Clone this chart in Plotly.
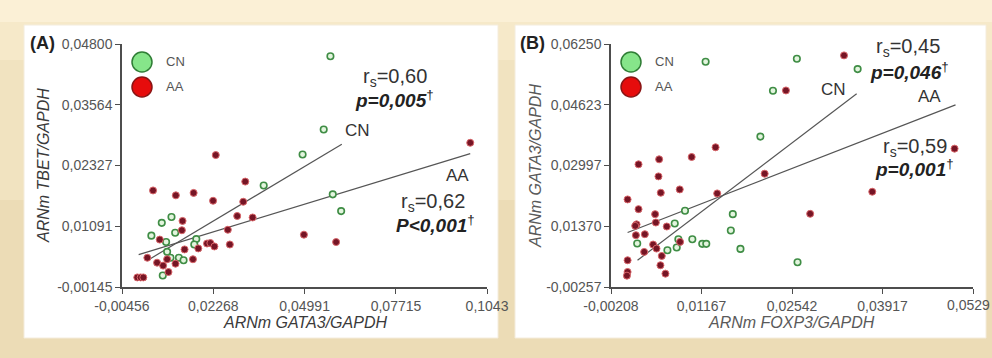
import plotly.graph_objects as go

W, H = 992, 358

# ---------------- Panel A data : TBET vs GATA3 ----------------
a_cn_x = [0.0576, 0.0556, 0.0493, 0.0377, 0.0583, 0.0608, 0.0102, 0.0073, 0.0042, 0.0113,
          0.0086, 0.0176, 0.0170, 0.0089, 0.0099, 0.0124, 0.0138, 0.0076]
a_cn_y = [0.0455, 0.0306, 0.0255, 0.0192, 0.0174, 0.0140, 0.0128, 0.0116, 0.0090, 0.0096,
          0.0077, 0.0083, 0.0072, 0.0057, 0.0045, 0.0045, 0.0040, 0.0009]
a_aa_x = [0.0993, 0.0234, 0.0322, 0.0047, 0.0115, 0.0168, 0.0226, 0.0316, 0.0298, 0.0344,
          0.0135, 0.0133, 0.0270, 0.0497, 0.0593, 0.0067, 0.0208, 0.0218, 0.0230, 0.0276,
          0.0141, 0.0182, 0.0030, 0.0166, 0.0059, 0.0077, 0.0114, 0.0093, 0.0000, 0.0010,
          0.0018, 0.0089]
a_aa_y = [0.0279, 0.0254, 0.0200, 0.0182, 0.0172, 0.0177, 0.0161, 0.0159, 0.0130, 0.0127,
          0.0120, 0.0101, 0.0102, 0.0092, 0.0077, 0.0082, 0.0074, 0.0075, 0.0068, 0.0072,
          0.0062, 0.0064, 0.0045, 0.0042, 0.0035, 0.0029, 0.0033, 0.0016, 0.0005, 0.0005,
          0.0005, 0.0042]
a_cn_fit_x = [0.00339, 0.0610]
a_cn_fit_y = [0.00411, 0.0276]
a_aa_fit_x = [0.00041, 0.0993]
a_aa_fit_y = [0.00513, 0.0257]
a_xticks = [-0.00456, 0.02268, 0.04991, 0.07715, 0.1043]
a_xticklabels = ["-0,00456", "0,02268", "0,04991", "0,07715", "0,1043"]
a_yticks = [-0.00145, 0.01091, 0.02327, 0.03564, 0.04800]
a_yticklabels = ["-0,00145", "0,01091", "0,02327", "0,03564", "0,04800"]

# ---------------- Panel B data : GATA3 vs FOXP3 ----------------
b_cn_x = [0.01229, 0.02615, 0.03538, 0.02252, 0.02061, 0.00916, 0.01642, 0.00760, 0.01612, 0.00190,
          0.00815, 0.01027, 0.01178, 0.01239, 0.00790, 0.00649, 0.01758, 0.02625]
b_cn_y = [0.05775, 0.05856, 0.05578, 0.04997, 0.03771, 0.01784, 0.01694, 0.01444, 0.01256, 0.00907,
          0.01023, 0.01023, 0.00898, 0.00898, 0.00799, 0.00727, 0.00763, 0.00405]
b_aa_x = [0.03331, 0.02449, 0.05010, 0.01380, 0.01017, 0.00523, 0.00210, 0.02126, 0.00513, 0.00836,
          0.00548, 0.01405, 0.03760, 0.00044, 0.00210, 0.02817, 0.00462, 0.00473, 0.00180, 0.00160,
          0.00639, 0.00170, 0.00306, 0.00432, 0.00483, 0.00841, 0.00296, 0.00563, 0.00044, 0.00543,
          0.00044, 0.00619, 0.00034]
b_aa_y = [0.05945, 0.05006, 0.03448, 0.03484, 0.03225, 0.03162, 0.03028, 0.02777, 0.02705, 0.02356,
          0.02267, 0.02249, 0.02294, 0.02088, 0.01828, 0.01703, 0.01694, 0.01470, 0.01420, 0.01380,
          0.01363, 0.01130, 0.01157, 0.00880, 0.00772, 0.00951, 0.00683, 0.00575, 0.00459, 0.00325,
          0.00146, 0.00101, 0.00047]
b_cn_fit_x = [0.00195, 0.03523]
b_cn_fit_y = [0.00459, 0.04916]
b_aa_fit_x = [0.00044, 0.05025]
b_aa_fit_y = [0.01202, 0.04621]
b_xticks = [-0.00208, 0.01167, 0.02542, 0.03917, 0.0529]
b_xticklabels = ["-0,00208", "0,01167", "0,02542", "0,03917", "0,0529"]
b_yticks = [-0.00257, 0.01370, 0.02997, 0.04623, 0.06250]
b_yticklabels = ["-0,00257", "0,01370", "0,02997", "0,04623", "0,06250"]

groups = ["CN", "AA"]


def px(x):
    return x / W


def py(y):
    return 1 - y / H


FONT = "Liberation Sans, Arial, sans-serif"
CN_MARK = dict(size=6.5, color="#e3f5de", line=dict(color="#3f8d45", width=1.6))
AA_MARK = dict(size=7, color="#761525", line=dict(color="#d9666a", width=1))
FIT_LINE = dict(color="#555555", width=1.2)
TICKFONT = dict(family=FONT, size=14, color="#555555")

fig = go.Figure()

panels = [
    ("x", "y", a_cn_x, a_cn_y, a_aa_x, a_aa_y, a_cn_fit_x, a_cn_fit_y, a_aa_fit_x, a_aa_fit_y),
    ("x2", "y2", b_cn_x, b_cn_y, b_aa_x, b_aa_y, b_cn_fit_x, b_cn_fit_y, b_aa_fit_x, b_aa_fit_y),
]
for xa, ya, cx, cy, ax_, ay_, cfx, cfy, afx, afy in panels:
    fig.add_trace(go.Scatter(x=cfx, y=cfy, mode="lines", line=FIT_LINE, xaxis=xa, yaxis=ya,
                             showlegend=False, hoverinfo="skip"))
    fig.add_trace(go.Scatter(x=afx, y=afy, mode="lines", line=FIT_LINE, xaxis=xa, yaxis=ya,
                             showlegend=False, hoverinfo="skip"))
    fig.add_trace(go.Scatter(x=cx, y=cy, mode="markers", marker=CN_MARK, name=groups[0],
                             xaxis=xa, yaxis=ya, showlegend=False, cliponaxis=False))
    fig.add_trace(go.Scatter(x=ax_, y=ay_, mode="markers", marker=AA_MARK, name=groups[1],
                             xaxis=xa, yaxis=ya, showlegend=False, cliponaxis=False))

axis_common = dict(showgrid=False, zeroline=False, showline=True, linecolor="#4d4d4d",
                   linewidth=1.5, ticks="outside", ticklen=5, tickwidth=1.3, tickcolor="#4d4d4d",
                   tickfont=TICKFONT, fixedrange=True,
                   automargin=False, ticklabeloverflow="allow")

# last tick label of panel B sits at the right edge: drawn as annotation shifted inward
b_xtick_text_axis = b_xticklabels[:-1] + [""]

y_dom = [py(287), py(44)]
fig.update_layout(
    width=W, height=H, margin=dict(l=0, r=0, t=0, b=0, pad=0, autoexpand=False),
    paper_bgcolor="#ecdcb6", plot_bgcolor="rgba(0,0,0,0)",
    font=dict(family=FONT),
    xaxis=dict(domain=[px(122), px(487)], range=[a_xticks[0], a_xticks[-1]], anchor="y",
               tickvals=a_xticks, ticktext=a_xticklabels, **axis_common),
    yaxis=dict(domain=y_dom, range=[a_yticks[0], a_yticks[-1]], anchor="x",
               tickvals=a_yticks, ticktext=a_yticklabels, **axis_common),
    xaxis2=dict(domain=[px(611), px(973)], range=[b_xticks[0], b_xticks[-1]], anchor="y2",
                tickvals=b_xticks, ticktext=b_xtick_text_axis, **axis_common),
    yaxis2=dict(domain=y_dom, range=[b_yticks[0], b_yticks[-1]], anchor="x2",
                tickvals=b_yticks, ticktext=b_yticklabels, **axis_common),
)

shapes = [
    # background bands
    dict(type="rect", xref="paper", yref="paper", x0=0, x1=1, y0=py(22), y1=1,
         fillcolor="#fbf0d6", line_width=0, layer="below"),
    dict(type="rect", xref="paper", yref="paper", x0=0, x1=1, y0=py(60), y1=py(22),
         fillcolor="#f6e9c9", line_width=0, layer="below"),
    dict(type="rect", xref="paper", yref="paper", x0=0, x1=1, y0=py(200), y1=py(60),
         fillcolor="#f1e3c0", line_width=0, layer="below"),
    # white panels
    dict(type="rect", xref="paper", yref="paper", x0=px(24), x1=px(498), y0=py(338), y1=py(25),
         fillcolor="#ffffff", line=dict(color="#f4ecdc", width=1), layer="below"),
    dict(type="rect", xref="paper", yref="paper", x0=px(515), x1=px(986), y0=py(338), y1=py(25),
         fillcolor="#ffffff", line=dict(color="#f4ecdc", width=1), layer="below"),
]

annotations = []


def text(x, y, t, size, color="#333333", xanchor="center", angle=0):
    annotations.append(dict(x=px(x), y=py(y), xref="paper", yref="paper", text=t, showarrow=False,
                            xanchor=xanchor, yanchor="middle", textangle=angle,
                            font=dict(family=FONT, size=size, color=color)))


# last x tick label of panel B
annotations.append(dict(x=b_xticks[-1], xref="x2", y=py(305), yref="paper", text=b_xticklabels[-1],
                        showarrow=False, xanchor="center", xshift=-5, yanchor="middle",
                        font=TICKFONT))

# legends (custom, big circles)
for lx in (142, 631):
    for (ly, fill, edge, lab) in ((62, "#86e58a", "#2f7d35", groups[0]), (87, "#e60c0c", "#8a1414", groups[1])):
        shapes.append(dict(type="circle", xref="paper", yref="paper",
                           x0=px(lx - 10), x1=px(lx + 10), y0=py(ly + 10), y1=py(ly - 10),
                           fillcolor=fill, line=dict(color=edge, width=1.5)))
        text(lx + 22, ly, lab, 13, "#555555", xanchor="left")

# panel labels
text(42, 43, "<b>(A)</b>", 18, "#222222")
text(532, 43, "<b>(B)</b>", 18, "#222222")

# axis titles
text(305, 322, "<i>ARNm GATA3/GAPDH</i>", 16, "#3a3a3a")
text(43, 166, "<i>ARNm TBET/GAPDH</i>", 16, "#3a3a3a", angle=-90)
text(791, 322, "<i>ARNm FOXP3/GAPDH</i>", 16, "#5a5a5a")
text(535, 166, "<i>ARNm GATA3/GAPDH</i>", 16, "#5a5a5a", angle=-90)

RS = 20
PV = 19
LB = 17
# statistics panel A
text(395, 77, "r<sub>s</sub>=0,60", RS)
text(394, 99, "<b><i>p=0,005</i></b><sup>†</sup>", PV, "#222222")
text(357, 131, "CN", LB)
text(457, 176, "AA", LB)
text(433, 202, "r<sub>s</sub>=0,62", RS)
text(435, 224, "<b><i>P&lt;0,001</i></b><sup>†</sup>", PV, "#222222")

# statistics panel B
text(908, 48, "r<sub>s</sub>=0,45", RS)
text(909, 71, "<b><i>p=0,046</i></b><sup>†</sup>", PV, "#222222")
text(833, 89, "CN", LB)
text(929, 97, "AA", LB)
text(915, 147, "r<sub>s</sub>=0,59", RS)
text(914, 168, "<b><i>p=0,001</i></b><sup>†</sup>", PV, "#222222")

fig.update_layout(shapes=shapes, annotations=annotations)
fig.write_html("out.html")
